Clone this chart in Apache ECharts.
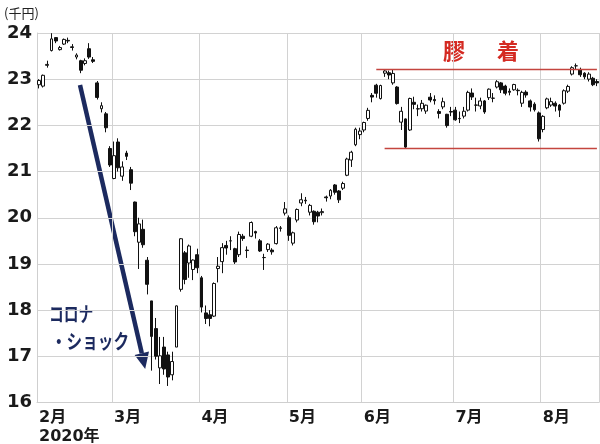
<!DOCTYPE html>
<html>
<head>
<meta charset="utf-8">
<script src="https://cdn.jsdelivr.net/npm/echarts@6/dist/echarts.min.js"></script>
<style>
html,body{margin:0;padding:0;background:#fff;}
#chart{width:600px;height:444px;}
</style>
</head>
<body>
<div id="chart"></div>
<script>
// Trading days (M/D), 2020
const dates = [
 '2/3','2/4','2/5','2/6','2/7','2/10','2/12','2/13','2/14','2/17','2/18','2/19','2/20','2/21','2/25','2/26','2/27','2/28',
 '3/2','3/3','3/4','3/5','3/6','3/9','3/10','3/11','3/12','3/13','3/16','3/17','3/18','3/19','3/23','3/24','3/25','3/26','3/27','3/30','3/31',
 '4/1','4/2','4/3','4/6','4/7','4/8','4/9','4/10','4/13','4/14','4/15','4/16','4/17','4/20','4/21','4/22','4/23','4/24','4/27','4/28','4/30',
 '5/1','5/7','5/8','5/11','5/12','5/13','5/14','5/15','5/18','5/19','5/20','5/21','5/22','5/25','5/26','5/27','5/28','5/29',
 '6/1','6/2','6/3','6/4','6/5','6/8','6/9','6/10','6/11','6/12','6/15','6/16','6/17','6/18','6/19','6/22','6/23','6/24','6/25','6/26','6/29','6/30',
 '7/1','7/2','7/3','7/6','7/7','7/8','7/9','7/10','7/13','7/14','7/15','7/16','7/17','7/20','7/21','7/22','7/27','7/28','7/29','7/30','7/31',
 '8/3','8/4','8/5','8/6','8/7','8/11','8/12','8/13','8/14','8/17','8/18','8/19','8/20','8/21'
];
const opens = [
 22880,22850,23300,23620,23900,23640,23760,23840,23700,23480,23400,23340,23660,23420,22920,22360,22250,21500,
 20850,21640,20900,21400,21040,20340,19470,19750,19080,18200,17600,16750,17200,17030,16600,17200,18450,19240,19020,18880,19200,
 18700,17940,17900,17870,18900,19050,19400,19500,19330,19200,19600,19300,19600,19700,19500,19140,19310,19300,19440,19780,20100,
 20000,19450,19950,20320,20380,20120,20140,20120,20110,20450,20470,20710,20580,20640,20920,21250,21580,21800,
 21900,22150,22650,22870,22580,23130,23140,22920,22830,22070,22140,21900,22500,22360,22360,22310,22610,22560,22300,22400,22240,22300,
 22330,22150,22200,22330,22700,22440,22420,22530,22600,22590,22830,22920,22850,22740,22770,22760,22480,22720,22530,22460,22270,
 21910,22380,22440,22480,22440,22480,22740,23110,23290,23200,23130,23000,23020,22950
];
const closes = [
 22971,23084,23320,23873,23827,23685,23861,23827,23687,23523,23194,23400,23479,23386,22605,22426,21948,21142,
 21344,21082,21100,21329,20749,19698,19867,19416,18559,17431,17002,17011,16726,16552,16887,18092,19546,18664,19389,19084,18917,
 18065,17818,17820,18576,18950,19353,19345,19498,19043,19638,19550,19290,19897,19669,19280,19137,19429,19262,19783,19771,20193,
 19619,19674,20179,20390,20366,20267,19914,20037,20133,20433,20595,20552,20388,20741,21271,21419,21916,21877,
 22062,22325,22613,22695,22863,23178,23091,23124,22472,22305,21530,22582,22455,22355,22478,22437,22549,22534,22259,22512,21995,22288,
 22121,22145,22306,22714,22614,22438,22529,22290,22784,22587,22945,22770,22696,22717,22884,22751,22715,22657,22397,22339,21710,
 22195,22573,22514,22418,22329,22750,22843,23249,23289,23096,23051,23110,22880,22920
];
const lows = [
 22800,22820,23250,23600,23780,23620,23740,23780,23620,23430,23130,23300,23440,23350,22560,22280,21850,21100,
 20834,21000,20800,21250,20600,19600,18891,19350,18340,16690,16930,16400,16600,16358,16480,17200,18400,18560,18700,18650,18800,
 17950,17700,17650,17850,18600,18800,19200,19300,19000,19150,19500,19130,19580,19550,19260,18870,19260,19200,19420,19700,20050,
 19500,19400,19900,20250,20300,20050,19850,19900,20050,20350,20400,20500,20320,20600,20900,21100,21550,21700,
 21850,22100,22500,22600,22560,23050,23000,22880,22450,21900,21510,21880,22350,22200,22300,22250,22500,22450,22150,22350,21950,22200,
 22100,22050,22150,22300,22550,22300,22350,22250,22550,22500,22800,22700,22650,22650,22750,22650,22400,22600,22300,22300,21650,
 21850,22350,22400,22300,22180,22450,22700,23080,23200,23050,23000,22950,22850,22850
];
const highs = [
 23000,23100,23400,23995,23910,23720,23880,23900,23760,23560,23420,23450,23780,23480,22960,22500,22290,21550,
 21650,21720,21220,21450,21100,20350,20000,19960,19150,18200,17830,17420,17420,17100,17100,18100,19560,19280,19420,19100,19330,
 18740,18100,18000,18600,19150,19450,19500,19600,19350,19700,19650,19380,19920,19720,19540,19220,19450,19340,19820,19820,20340,
 20050,19700,20200,20530,20450,20300,20160,20150,20200,20480,20620,20730,20600,20780,21300,21450,21950,21950,
 22080,22380,22700,22900,22880,23200,23185,23200,22850,22400,22150,22600,22620,22450,22550,22450,22700,22650,22350,22600,22250,22400,
 22400,22300,22400,22750,22800,22600,22600,22550,22800,22700,22980,22940,22880,22800,22900,22800,22750,22760,22560,22500,22300,
 22220,22600,22600,22520,22460,22780,22880,23280,23340,23250,23150,23150,23050,23000
];
// range lines ("膠着" band)
const resistance = 23210, resistanceFrom = '6/4';
const support = 21510, supportFrom = '6/8';
const yearLabel = '2020年';

const ohlc = dates.map((d, i) => [opens[i], closes[i], lows[i], highs[i]]);
const monthOf = d => d.split('/')[0];
const isMonthStart = i => i === 0 || monthOf(dates[i]) !== monthOf(dates[i - 1]);
const lastDate = dates[dates.length - 1];

const navy = '#1c2a5f';
const jpBold = 'bold 20px "Noto Sans CJK JP", sans-serif';
const chart = echarts.init(document.getElementById('chart'), null, {renderer: 'canvas'});
chart.setOption({
  animation: false,
  backgroundColor: '#fff',
  grid: {left: 37, right: 1, top: 33, bottom: 41.5, containLabel: false, outerBoundsMode: 'none'},
  xAxis: {
    type: 'category',
    data: dates,
    boundaryGap: true,
    axisLine: {show: true, lineStyle: {color: '#cfcfcf'}},
    axisTick: {show: false},
    splitLine: {show: true, interval: (i) => isMonthStart(i), lineStyle: {color: '#d2d2d2', width: 1}},
    axisLabel: {
      interval: (i) => isMonthStart(i),
      formatter: (v, i) => monthOf(v) + '月' + (i === 0 ? '\n' + yearLabel : ''),
      align: 'left',
      margin: 6,
      lineHeight: 19,
      color: '#1a1a1a',
      fontSize: 16,
      fontWeight: 'bold',
      fontFamily: '"DejaVu Sans", "Noto Sans CJK JP", sans-serif'
    }
  },
  yAxis: {
    type: 'value',
    min: 16000, max: 24000, interval: 1000,
    axisLine: {show: true, lineStyle: {color: '#cfcfcf'}},
    axisTick: {show: false},
    splitLine: {show: true, lineStyle: {color: '#d2d2d2', width: 1}},
    axisLabel: {
      formatter: v => String(v / 1000),
      margin: 5,
      color: '#1a1a1a',
      fontSize: 18,
      fontWeight: 'bold',
      fontFamily: '"DejaVu Sans", sans-serif'
    }
  },
  series: [{
    type: 'candlestick',
    data: ohlc,
    barWidth: '80%',
    itemStyle: {
      color: '#ffffff', color0: '#111111',
      borderColor: '#111111', borderColor0: '#111111', borderColorDoji: '#111111',
      borderWidth: 1
    },
    markLine: {
      silent: true,
      symbol: 'none',
      label: {show: false},
      lineStyle: {color: '#c4453f', width: 1.3, type: 'solid'},
      data: [
        [{coord: [resistanceFrom, resistance]}, {coord: [lastDate, resistance]}],
        [{coord: [supportFrom, support]}, {coord: [lastDate, support]}]
      ]
    }
  }],
  graphic: [
    {type: 'text', x: 4, y: 13, style: {text: '(千円)', fill: '#222', font: '13px "Noto Sans CJK JP", sans-serif', verticalAlign: 'middle'}},
    {type: 'line', shape: {x1: 80, y1: 85, x2: 141.8, y2: 353.3}, style: {stroke: navy, lineWidth: 4.5}},
    {type: 'polygon', shape: {points: [[145.2, 369], [149, 351.5], [134.6, 355]]}, style: {fill: navy}},
    {type: 'text', x: 49, y: 314, scaleX: 0.74, style: {text: 'コロナ', fill: navy, font: jpBold, verticalAlign: 'middle'}},
    {type: 'text', x: 51, y: 341, scaleX: 0.78, style: {text: '・ショック', fill: navy, font: jpBold, verticalAlign: 'middle'}},
    {type: 'text', x: 443, y: 51, style: {text: '膠', fill: '#d42a22', font: 'bold 22px "Noto Sans CJK JP", sans-serif', verticalAlign: 'middle'}},
    {type: 'text', x: 497, y: 51, style: {text: '着', fill: '#d42a22', font: 'bold 22px "Noto Sans CJK JP", sans-serif', verticalAlign: 'middle'}}
  ]
});
</script>
</body>
</html>
